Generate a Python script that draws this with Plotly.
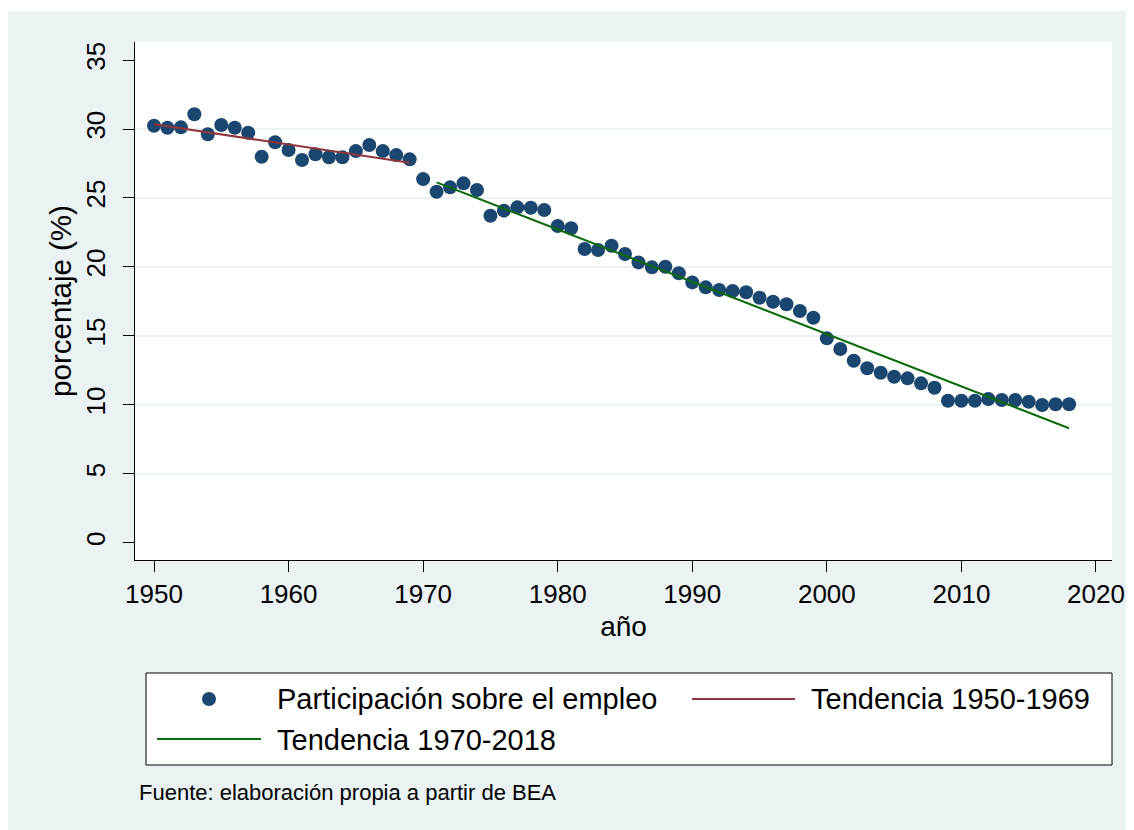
import plotly.graph_objects as go

# ---------------- data ----------------
years = list(range(1950, 2019))
participacion = [
    30.24, 30.09, 30.12, 31.07, 29.62, 30.29, 30.09, 29.73, 27.99, 29.04,
    28.48, 27.75, 28.17, 27.95, 27.95, 28.40, 28.84, 28.40, 28.11, 27.80,
    26.37, 25.45, 25.77, 26.06, 25.58, 23.71, 24.08, 24.32, 24.29, 24.13,
    22.97, 22.80, 21.30, 21.23, 21.54, 20.94, 20.33, 19.97, 20.01, 19.54,
    18.88, 18.52, 18.33, 18.25, 18.16, 17.77, 17.48, 17.29, 16.80, 16.32,
    14.82, 14.05, 13.20, 12.65, 12.33, 12.04, 11.92, 11.56, 11.24, 10.30,
    10.30, 10.30, 10.42, 10.35, 10.35, 10.22, 9.99, 10.04, 10.04,
]
trend1_years = [1950, 1969]
trend1_values = [30.34, 27.56]
trend2_years = [1971, 2018]
trend2_values = [26.13, 8.30]

x_ticks = [1950, 1960, 1970, 1980, 1990, 2000, 2010, 2020]
y_ticks = [0, 5, 10, 15, 20, 25, 30, 35]
grid_values = [5, 10, 15, 20, 25, 30]

series_labels = ["Participación sobre el empleo", "Tendencia 1950-1969", "Tendencia 1970-2018"]
x_title = "año"
y_title = "porcentaje (%)"
note_text = "Fuente: elaboración propia a partir de BEA"

# ---------------- style ----------------
BG = "#EAF2F3"
NAVY = "#1A476F"
MAROON = "#90353B"
GREEN = "#0B6B0B"
FONT = "Liberation Sans, Arial, sans-serif"

PAGE_OFF = 8                      # default body margin of the html page
W, H = 1134 - PAGE_OFF, 830 - PAGE_OFF
ML, MR, MT, MB = 135 - PAGE_OFF, 22, 42 - PAGE_OFF, 270
PW, PH = W - ML - MR, H - MT - MB


# helpers: page-pixel position -> paper fraction
def px(xpix):
    return (xpix - PAGE_OFF - ML) / PW


def py(ypix):
    return (H - MB - (ypix - PAGE_OFF)) / PH


fig = go.Figure()

fig.add_trace(go.Scatter(
    x=years, y=participacion, mode="markers", name=series_labels[0],
    marker=dict(color=NAVY, size=14, line=dict(width=0)), showlegend=False,
))
fig.add_trace(go.Scatter(
    x=trend1_years, y=trend1_values, mode="lines", name=series_labels[1],
    line=dict(color=MAROON, width=2), showlegend=False,
))
fig.add_trace(go.Scatter(
    x=trend2_years, y=trend2_values, mode="lines", name=series_labels[2],
    line=dict(color=GREEN, width=2), showlegend=False,
))

# gridlines (not at axis limits)
for g in grid_values:
    fig.add_shape(type="line", xref="paper", x0=0, x1=1, yref="y", y0=g, y1=g,
                  line=dict(color=BG, width=2), layer="below")

# thin white strip at the top of the page
fig.add_shape(type="rect", xref="paper", yref="paper", x0=px(0), x1=px(1134), y0=py(11), y1=py(8),
              fillcolor="white", line=dict(width=0), layer="below")

# custom legend box
fig.add_shape(type="rect", xref="paper", yref="paper", x0=px(146), x1=px(1112), y0=py(765), y1=py(673),
              fillcolor="white", line=dict(color="black", width=1), layer="above")
fig.add_shape(type="circle", xref="paper", yref="paper", x0=px(202), x1=px(216), y0=py(706), y1=py(692),
              fillcolor=NAVY, line=dict(width=0), layer="above")
fig.add_shape(type="line", xref="paper", yref="paper", x0=px(692), x1=px(795), y0=py(699), y1=py(699),
              line=dict(color=MAROON, width=2), layer="above")
fig.add_shape(type="line", xref="paper", yref="paper", x0=px(157), x1=px(261), y0=py(739), y1=py(739),
              line=dict(color=GREEN, width=2), layer="above")

legend_items = [(series_labels[0], 275, 699), (series_labels[1], 809, 699), (series_labels[2], 275, 740)]
for text, xx, yy in legend_items:
    fig.add_annotation(text=text, xref="paper", yref="paper", x=px(xx), y=py(yy),
                       xanchor="left", yanchor="middle", showarrow=False,
                       font=dict(family=FONT, size=29, color="black"))

fig.add_annotation(text=note_text, xref="paper", yref="paper", x=px(137), y=py(793),
                   xanchor="left", yanchor="middle", showarrow=False,
                   font=dict(family=FONT, size=22, color="black"))

fig.update_layout(
    width=W, height=H,
    margin=dict(l=ML, r=MR, t=MT, b=MB, autoexpand=False),
    paper_bgcolor=BG, plot_bgcolor="white",
    font=dict(family=FONT, color="black"),
    showlegend=False,
    xaxis=dict(
        range=[1948.588, 2021.19], tickvals=x_ticks, showgrid=False, zeroline=False,
        showline=True, linecolor="black", linewidth=1,
        ticks="outside", ticklen=11, tickcolor="black", tickwidth=1,
        tickfont=dict(family=FONT, size=26, color="black"), ticklabelstandoff=0,
        title=dict(text=x_title, font=dict(family=FONT, size=28, color="black"), standoff=8),
    ),
    yaxis=dict(
        range=[-1.25, 36.31], tickvals=y_ticks, showgrid=False, zeroline=False,
        showline=True, linecolor="black", linewidth=1,
        ticks="outside", ticklen=11, tickcolor="black", tickwidth=1, tickangle=-90,
        tickfont=dict(family=FONT, size=26, color="black"), ticklabelstandoff=8,
        title=dict(text=y_title, font=dict(family=FONT, size=29.5, color="black"), standoff=0),
    ),
)

fig.write_html("out.html")
